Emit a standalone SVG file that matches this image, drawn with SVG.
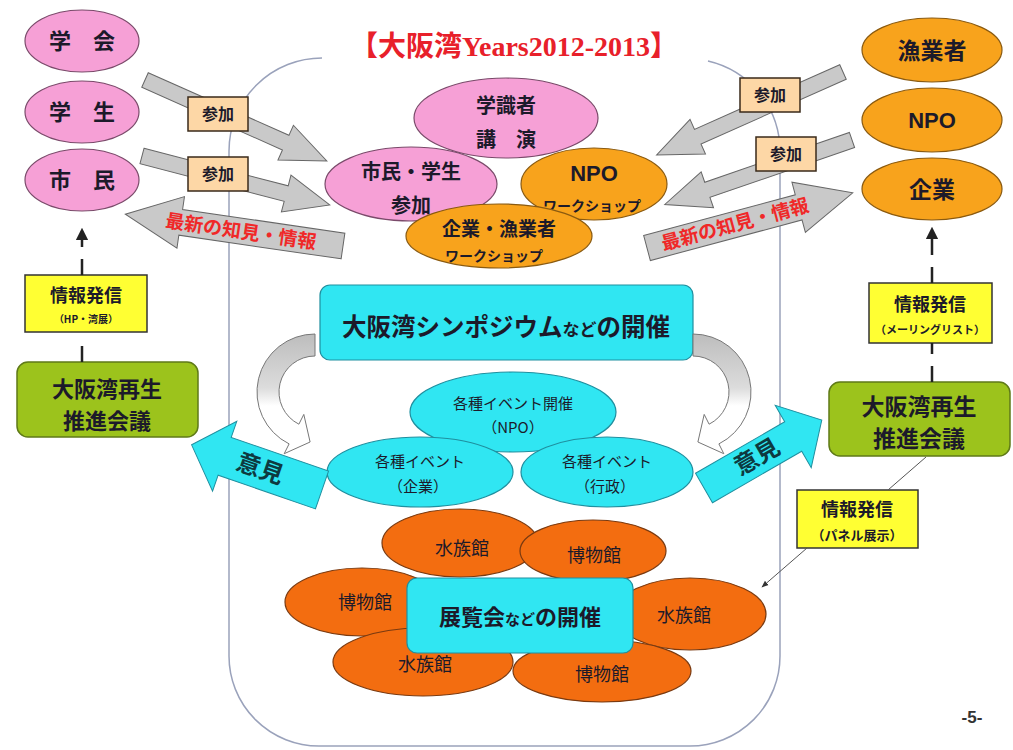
<svg xmlns="http://www.w3.org/2000/svg" width="1013" height="750" viewBox="0 0 1013 750">
<style>
.jp{font-family:'Noto Sans CJK JP','Noto Sans',sans-serif;fill:#1c1a2a;text-anchor:middle}
.b{font-weight:bold}
.pink{fill:#f6a0d6;stroke:#7a4a6a;stroke-width:1.2}
.lor{fill:#f8a31c;stroke:#8a5a10;stroke-width:1.2}
.dor{fill:#f36d10;stroke:#7a3a10;stroke-width:1.2}
.cy{fill:#30e6f2;stroke:#1f8f9f;stroke-width:1.2}
.gr{fill:#9cc31c;stroke:#5f7a18;stroke-width:1.5}
.ye{fill:#ffff33;stroke:#333;stroke-width:1.5}
.pe{fill:#fdd7a6;stroke:#3a2a1a;stroke-width:1.5}
.ga{fill:#c9c9c9;stroke:#666;stroke-width:1}
.ca{fill:#30e6f2;stroke:#1f8f9f;stroke-width:1}
.red{font-family:'Noto Sans CJK JP',sans-serif;font-weight:bold;fill:#f02828;text-anchor:middle;font-size:19px}
.ik{font-family:'Noto Sans CJK JP',sans-serif;font-weight:bold;fill:#0d3a40;text-anchor:middle;font-size:24px}
.dash{stroke:#222;stroke-width:2.5;stroke-dasharray:16 12;fill:none}
</style>
<defs>
<linearGradient id="cg" x1="0" y1="0" x2="0" y2="1">
<stop offset="0" stop-color="#bdbdbd"/><stop offset="0.45" stop-color="#dcdcdc"/><stop offset="0.6" stop-color="#ffffff"/><stop offset="1" stop-color="#ffffff"/>
</linearGradient>
<marker id="ah" viewBox="0 0 10 10" refX="9" refY="5" markerWidth="5" markerHeight="5" orient="auto-start-reverse">
<path d="M0,0 L10,5 L0,10 Z" fill="#222"/>
</marker>
<marker id="ah2" viewBox="0 0 10 10" refX="9" refY="5" markerWidth="7" markerHeight="7" orient="auto">
<path d="M0,1 L10,5 L0,9 Z" fill="#333"/>
</marker>
</defs>
<rect width="1013" height="750" fill="#ffffff"/>

<!-- frame -->
<path d="M322,58 A93,93 0 0 0 229,151 L229,656 A90,90 0 0 0 319,746 L690,746 A90,90 0 0 0 780,656 L780,151 A93,93 0 0 0 708,61" fill="none" stroke="#9aa2bb" stroke-width="1.5"/>

<text x="514" y="56" font-family="'Liberation Serif','Noto Sans CJK JP',serif" font-size="28" font-weight="bold" fill="#e8202a" text-anchor="middle">【大阪湾Years2012-2013】</text>

<!-- left column -->
<g id="gakkai"><ellipse class="pink" cx="82" cy="41" rx="57" ry="31"/><text class="jp b" x="82" y="49" font-size="22">学　会</text></g>
<g id="gakusei"><ellipse class="pink" cx="82" cy="112" rx="57" ry="31"/><text class="jp b" x="82" y="120" font-size="22">学　生</text></g>
<g id="shimin"><ellipse class="pink" cx="82" cy="180" rx="57" ry="31"/><text class="jp b" x="82" y="188" font-size="22">市　民</text></g>
<g id="info-left"><rect class="ye" x="25" y="275" width="122" height="57"/><text class="jp b" x="86" y="302" font-size="18">情報発信</text><text class="jp b" x="86" y="323" font-size="10">（HP・湾展）</text></g>
<g id="council-left"><rect class="gr" x="17" y="362" width="181" height="75" rx="11"/><text class="jp b" x="107" y="397" font-size="22">大阪湾再生</text><text class="jp b" x="107" y="429" font-size="22">推進会議</text></g>

<!-- right column -->
<g id="gyogyosha"><ellipse class="lor" cx="932" cy="50" rx="70" ry="32"/><text class="jp b" x="932" y="59" font-size="23">漁業者</text></g>
<g id="npo"><ellipse class="lor" cx="932" cy="120" rx="70" ry="32"/><text x="932" y="128" font-family="'Liberation Sans',sans-serif" font-weight="bold" font-size="22" fill="#1c1a2a" text-anchor="middle">NPO</text></g>
<g id="kigyo"><ellipse class="lor" cx="932" cy="189" rx="70" ry="31"/><text class="jp b" x="932" y="198" font-size="23">企業</text></g>
<g id="info-right"><rect class="ye" x="869" y="283" width="123" height="60"/><text class="jp b" x="930" y="311" font-size="18">情報発信</text><text class="jp b" x="930" y="334" font-size="11">（メーリングリスト）</text></g>
<g id="council-right"><rect class="gr" x="829" y="382" width="181" height="74" rx="11"/><text class="jp b" x="919" y="415" font-size="23">大阪湾再生</text><text class="jp b" x="919" y="447" font-size="23">推進会議</text></g>
<g id="info-panel"><rect class="ye" x="797" y="490" width="121" height="58"/><text class="jp b" x="857" y="516" font-size="18">情報発信</text><text class="jp b" x="857" y="540" font-size="13">（パネル展示）</text></g>

<!-- center top -->
<g id="gakushiki"><ellipse class="pink" cx="506" cy="118" rx="92" ry="40"/><text class="jp b" x="506" y="113" font-size="20">学識者</text><text class="jp b" x="506" y="147" font-size="20">講　演</text></g>
<g id="shimin-sanka"><ellipse class="pink" cx="411" cy="184" rx="86" ry="37"/><text class="jp b" x="411" y="179" font-size="20">市民・学生</text><text class="jp b" x="411" y="213" font-size="20">参加</text></g>
<g id="npo-ws"><ellipse class="lor" cx="594" cy="184" rx="73" ry="36"/><text x="594" y="181" font-family="'Liberation Sans',sans-serif" font-weight="bold" font-size="22" fill="#1c1a2a" text-anchor="middle">NPO</text><text class="jp b" x="592" y="211" font-size="14">ワークショップ</text></g>
<g id="kigyo-ws"><ellipse class="lor" cx="499" cy="236" rx="93" ry="32"/><text class="jp b" x="499" y="236" font-size="19">企業・漁業者</text><text class="jp b" x="494" y="261" font-size="14">ワークショップ</text></g>

<g id="symposium"><rect class="cy" x="320" y="285" width="373" height="75" rx="10"/><text class="jp b" x="506" y="336" font-size="24.5">大阪湾シンポジウム<tspan font-size="17">など</tspan>の開催</text></g>

<g id="event-npo"><ellipse class="cy" cx="513" cy="412" rx="103" ry="40"/><text class="jp" x="513" y="409" font-size="15">各種イベント開催</text><text class="jp" x="513" y="433" font-size="15">（NPO）</text></g>
<g id="event-kigyo"><ellipse class="cy" cx="420" cy="472" rx="93" ry="35"/><text class="jp" x="420" y="467" font-size="15">各種イベント</text><text class="jp" x="418" y="492" font-size="15">（企業）</text></g>
<g id="event-gyosei"><ellipse class="cy" cx="607" cy="472" rx="86" ry="35"/><text class="jp" x="607" y="467" font-size="15">各種イベント</text><text class="jp" x="605" y="492" font-size="15">（行政）</text></g>

<!-- exhibitions -->
<g id="hakubutsukan-l"><ellipse class="dor" cx="362" cy="602" rx="77" ry="34"/><text class="jp" x="365" y="609" font-size="18">博物館</text></g>
<g id="suizokukan-r"><ellipse class="dor" cx="690" cy="614" rx="76" ry="36"/><text class="jp" x="684" y="622" font-size="18">水族館</text></g>
<g id="suizokukan-tl"><ellipse class="dor" cx="460" cy="543" rx="78" ry="34"/><text class="jp" x="462" y="555" font-size="18">水族館</text></g>
<g id="hakubutsukan-tr"><ellipse class="dor" cx="593" cy="551" rx="73" ry="31"/><text class="jp" x="594" y="562" font-size="18">博物館</text></g>
<g id="suizokukan-bl"><ellipse class="dor" cx="423" cy="662" rx="90" ry="34"/><text class="jp" x="425" y="671" font-size="18">水族館</text></g>
<g id="hakubutsukan-br"><ellipse class="dor" cx="602" cy="671" rx="89" ry="31"/><text class="jp" x="602" y="681" font-size="18">博物館</text></g>
<g id="exhibition"><rect class="cy" x="407" y="578" width="226" height="75" rx="10"/><text class="jp b" x="520" y="625" font-size="22">展覧会<tspan font-size="15">など</tspan>の開催</text></g>

<!-- connectors -->
<g id="connectors">
<path class="ga" transform="translate(145,80) rotate(24)" d="M0,-8 L154,-8 L154,-19 L199,0 L154,19 L154,8 L0,8 Z"/>
<path class="ga" transform="translate(142,156) rotate(14.6)" d="M0,-8 L149,-8 L149,-19 L194,0 L149,19 L149,8 L0,8 Z"/>
<path class="ga" transform="translate(843,72) rotate(156)" d="M0,-8 L159,-8 L159,-19 L204,0 L159,19 L159,8 L0,8 Z"/>
<path class="ga" transform="translate(852,140) rotate(161)" d="M0,-8 L153,-8 L153,-19 L198,0 L153,19 L153,8 L0,8 Z"/>
<rect class="pe" x="188" y="97" width="60" height="34"/><text class="jp b" x="218" y="120" font-size="16">参加</text>
<rect class="pe" x="188" y="157" width="60" height="34"/><text class="jp b" x="218" y="180" font-size="16">参加</text>
<rect class="pe" x="740" y="78" width="60" height="34"/><text class="jp b" x="770" y="101" font-size="16">参加</text>
<rect class="pe" x="756" y="137" width="60" height="34"/><text class="jp b" x="786" y="160" font-size="16">参加</text>

<path class="ga" stroke="#333" stroke-width="1.5" transform="translate(343,246) rotate(188.3)" d="M0,-13 L164,-13 L164,-26 L220,0 L164,26 L164,13 L0,13 Z"/>
<text class="red" transform="rotate(8.3 241 231)" x="241" y="238">最新の知見・情報</text>
<path class="ga" stroke="#333" stroke-width="1.5" transform="translate(647,248) rotate(-15)" d="M0,-13 L157,-13 L157,-26 L213,0 L157,26 L157,13 L0,13 Z"/>
<text class="red" transform="rotate(-15 735 224)" x="735" y="231">最新の知見・情報</text>

<path fill="url(#cg)" stroke="#777" stroke-width="1" d="M315,334 A58,58 0 0 0 289.1,443.9 L284.2,453.7 L310.1,442 L303.8,414.4 L298.9,424.2 A36,36 0 0 1 315,356 Z"/>
<path fill="url(#cg)" stroke="#777" stroke-width="1" transform="translate(1008,0) scale(-1,1)" d="M315,334 A58,58 0 0 0 289.1,443.9 L284.2,453.7 L310.1,442 L303.8,414.4 L298.9,424.2 A36,36 0 0 1 315,356 Z"/>

<path class="ca" transform="translate(322,490) rotate(199.1)" d="M0,-20 L103,-20 L103,-37 L138,0 L103,37 L103,20 L0,20 Z"/>
<text class="ik" transform="rotate(19.1 260 469)" x="260" y="477">意見</text>
<path class="ca" transform="translate(704,488) rotate(-30)" d="M0,-17 L103,-17 L103,-36 L136,0 L103,36 L103,17 L0,17 Z"/>
<text class="ik" transform="rotate(-30 757 457)" x="757" y="465">意見</text>

<line class="dash" x1="82" y1="275" x2="82" y2="229" marker-end="url(#ah)"/>
<line class="dash" x1="82" y1="362" x2="82" y2="336"/>
<line class="dash" x1="932" y1="283" x2="932" y2="228" marker-end="url(#ah)"/>
<line class="dash" x1="932" y1="382" x2="932" y2="343"/>
<line x1="926" y1="457" x2="888" y2="490" stroke="#555" stroke-width="1"/>
<line x1="807" y1="548" x2="762" y2="587" stroke="#555" stroke-width="1" marker-end="url(#ah2)"/>
</g>

<text x="972" y="723" font-family="'Liberation Sans',sans-serif" font-weight="bold" font-size="17" fill="#333" text-anchor="middle">-5-</text>
</svg>
